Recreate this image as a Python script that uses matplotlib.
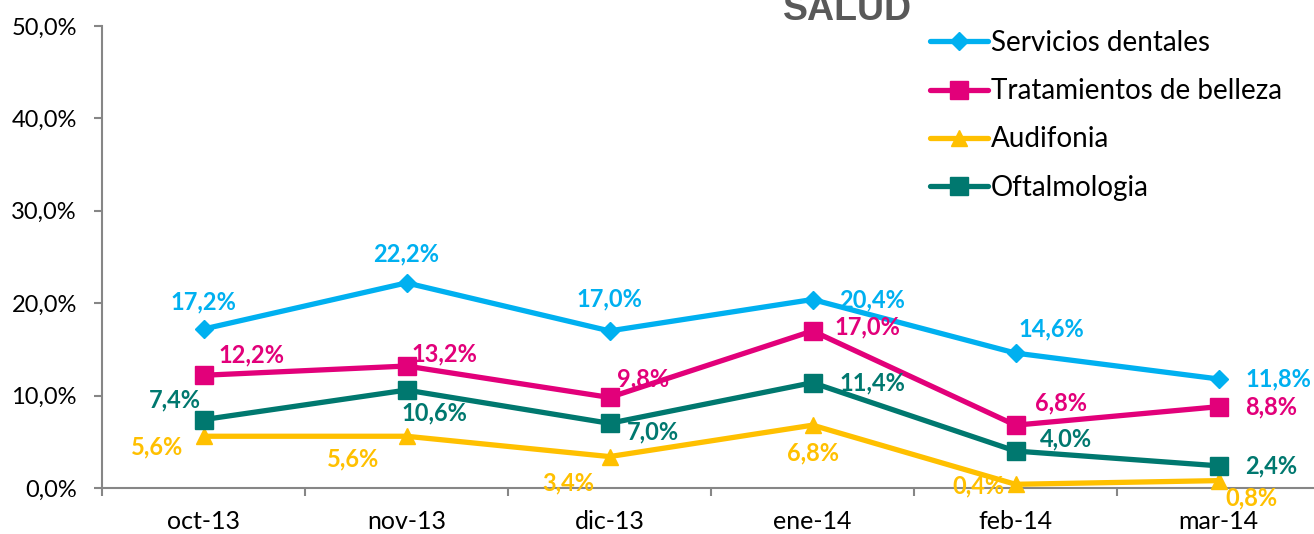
import matplotlib
matplotlib.use('Agg')
import matplotlib.pyplot as plt

# Datos
meses = ['oct-13', 'nov-13', 'dic-13', 'ene-14', 'feb-14', 'mar-14']
dentales = [17.2, 22.2, 17.0, 20.4, 14.6, 11.8]
belleza = [12.2, 13.2, 9.8, 17.0, 6.8, 8.8]
audifonia = [5.6, 5.6, 3.4, 6.8, 0.4, 0.8]
oftalmologia = [7.4, 10.6, 7.0, 11.4, 4.0, 2.4]

plt.rcParams['font.family'] = ['Lato', 'DejaVu Sans']

fig = plt.figure(figsize=(13.14, 5.34), dpi=100)
ax = fig.add_axes([102 / 1314, 1 - 488 / 534, 1218 / 1314, 462 / 534])

x = list(range(len(meses)))

# (nombre, valores, color, marcador, tamaño, offsets de etiquetas en px, alineación)
series = [
    ('Servicios dentales', dentales, '#00B0F0', 'D', 9,
     [(0, 27, 'center'), (0, 29, 'center'), (0, 32, 'center'), (27, 0, 'left'), (36, 24, 'center'), (27, 0, 'left')]),
    ('Tratamientos de belleza', belleza, '#E2007A', 's', 13,
     [(15, 20, 'left'), (5, 12, 'left'), (7, 19, 'left'), (22, 4, 'left'), (19, 22, 'left'), (27, 0, 'left')]),
    ('Audifonia', audifonia, '#FFC000', '^', 12,
     [(-20, -11, 'right'), (-27, -23, 'right'), (-15, -26, 'right'), (0, -28, 'center'), (-11, -2, 'right'), (7, -17, 'left')]),
    ('Oftalmologia', oftalmologia, '#00786F', 's', 13,
     [(-3, 20, 'right'), (-5, -23, 'left'), (17, -9, 'left'), (27, 0, 'left'), (24, 12, 'left'), (27, 0, 'left')]),
]

for nombre, vals, color, mk, ms, offs in series:
    ax.plot(x, vals, color=color, lw=3.8, marker=mk, markersize=ms,
            label=nombre, clip_on=False, solid_capstyle='round', zorder=3)
    for xi, v, (dx, dy, ha) in zip(x, vals, offs):
        ax.annotate(f'{v:.1f}%'.replace('.', ','), (xi, v),
                    xytext=(dx * 0.72, dy * 0.72), textcoords='offset points',
                    ha=ha, va='center', fontsize=17, fontweight='bold',
                    color=color, zorder=4)

ax.set_xlim(-0.5, 5.5)
ax.set_ylim(0, 50)
ax.set_yticks([0, 10, 20, 30, 40, 50])
ax.set_yticklabels([f'{t:.1f}%'.replace('.', ',') for t in [0, 10, 20, 30, 40, 50]])
ax.set_xticks(x)
ax.set_xticklabels(meses)
ax.set_xticks([i - 0.5 for i in range(7)], minor=True)

ax.spines['top'].set_visible(False)
ax.spines['right'].set_visible(False)
for s in ['left', 'bottom']:
    ax.spines[s].set_color('#868686')
    ax.spines[s].set_linewidth(1.5)

ax.tick_params(axis='y', length=6, width=1.5, color='#868686', labelsize=17, pad=12)
ax.tick_params(axis='x', which='major', length=0, labelsize=18, pad=16)
ax.tick_params(axis='x', which='minor', length=6, width=1.5, color='#868686')

fig.text(848 / 1314, 1 - 20 / 534, 'SALUD', ha='center', va='baseline',
         fontsize=27, fontweight='bold', color='#595959', family='Liberation Sans')

ax.legend(loc='upper left', bbox_to_anchor=(930 / 1314, 1 - 30 / 534),
          bbox_transform=fig.transFigure, frameon=False, fontsize=20,
          handlelength=2.1, handletextpad=0.1, labelspacing=0.8,
          borderaxespad=0, borderpad=0)

fig.savefig('out.png', dpi=100)
